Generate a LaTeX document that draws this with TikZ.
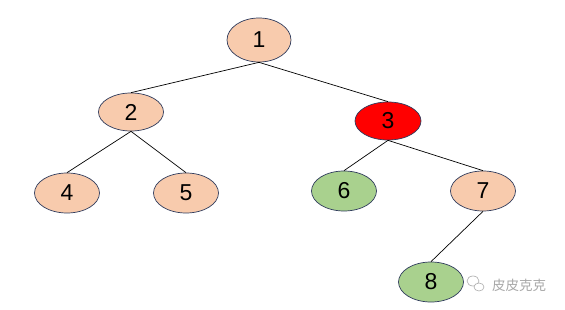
\documentclass[tikz,border=0pt]{standalone}
\usepackage{fontspec}
\setmainfont{Liberation Sans}
\newfontfamily\cjk{Noto Sans CJK SC}
\usetikzlibrary{shapes.geometric}
\definecolor{peach}{HTML}{F8CBAD}
\definecolor{leaf}{HTML}{A9D18E}
\definecolor{rim}{HTML}{2F3B5C}
\definecolor{wm}{HTML}{A8A8A8}
\begin{document}
\begin{tikzpicture}[x=1pt,y=-1pt,
  tnode/.style={ellipse, draw=rim, line width=0.7pt, minimum width=65pt, minimum height=40pt, inner sep=0pt, font=\fontsize{23}{25}\selectfont},
  edge/.style={draw=black, line width=0.7pt}]
\useasboundingbox[fill=white] (0,0) rectangle (565,310);
\node[tnode, fill=peach, minimum height=44pt, minimum width=64pt] (n1) at (259,40) {1};
\node[tnode, fill=peach, minimum height=38pt] (n2) at (131,112) {2};
\node[tnode, fill=red, minimum height=38pt, minimum width=66pt] (n3) at (388,121) {3};
\node[tnode, fill=peach] (n4) at (67,193) {4};
\node[tnode, fill=peach] (n5) at (186,193) {5};
\node[tnode, fill=leaf] (n6) at (344,191) {6};
\node[tnode, fill=peach] (n7) at (483,191) {7};
\node[tnode, fill=leaf] (n8) at (431,282) {8};
\draw[edge] (n1.south) -- (n2.north);
\draw[edge] (n1.south) -- (n3.north);
\draw[edge] (n2.south) -- (n4.north);
\draw[edge] (n2.south) -- (n5.north);
\draw[edge] (n3.south) -- (n6.north);
\draw[edge] (n3.south) -- (n7.north);
\draw[edge] (n7.south) -- (n8.north);
\draw[wm, line width=0.6pt] (473,281) circle[x radius=6pt, y radius=5pt];
\draw[wm, line width=0.6pt, fill=white] (479,287) circle[x radius=5pt, y radius=4pt];
\node[text=wm, font=\cjk\fontsize{13.5}{15}\selectfont, anchor=west, inner sep=0pt] (wmk) at (492,285) {皮皮克克};
\end{tikzpicture}
\end{document}
